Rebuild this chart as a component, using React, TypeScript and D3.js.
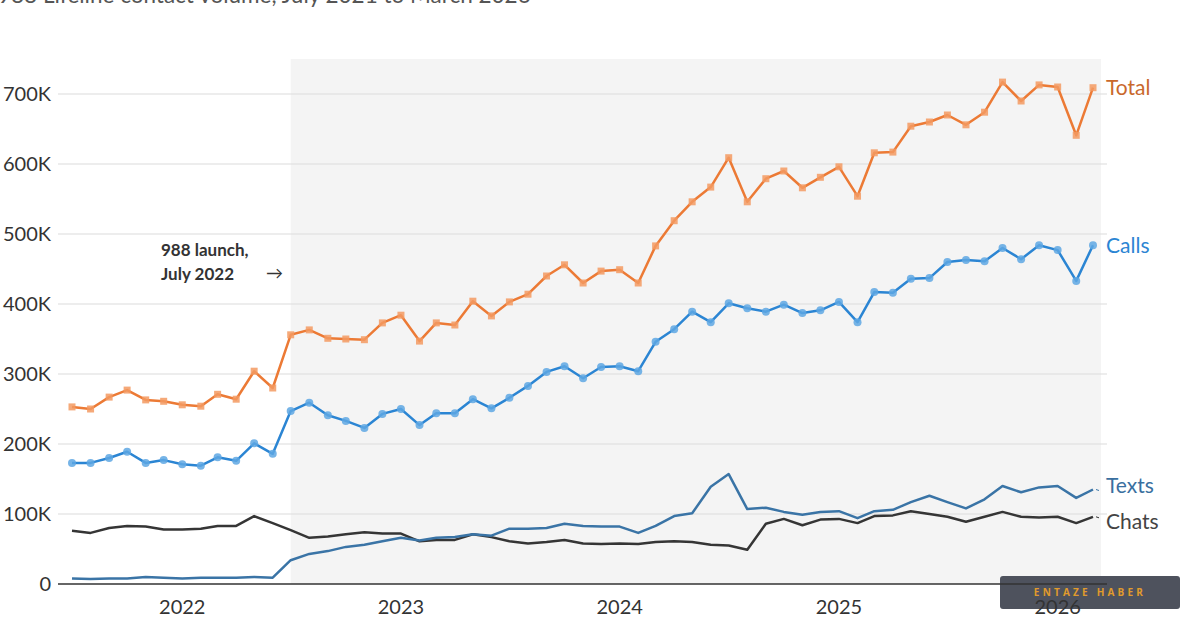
import * as d3 from "d3";

// monthly contact volume, Jul 2021 .. Mar 2026
const months = d3.timeMonth.range(new Date(2021, 6, 1), new Date(2026, 3, 1));

const total = [
  253, 250, 267, 277, 263, 261, 256, 254, 271, 264, 304, 280,
  356, 363, 351, 350, 349, 373, 384, 347, 373, 370, 404, 383,
  403, 414, 440, 456, 430, 447, 449, 430, 483, 519, 546, 567,
  609, 546, 579, 590, 566, 581, 596, 554, 616, 617, 654, 660,
  670, 656, 674, 717, 690, 713, 710, 641, 709,
];
const calls = [
  173, 173, 180, 189, 173, 177, 171, 169, 181, 176, 201, 186,
  247, 259, 241, 233, 223, 243, 250, 227, 244, 244, 264, 251,
  266, 283, 303, 311, 294, 310, 311, 304, 346, 364, 389, 374,
  401, 394, 389, 399, 387, 391, 403, 374, 417, 416, 436, 437,
  460, 463, 461, 480, 464, 484, 477, 433, 484,
];
const texts = [
  8, 7, 8, 8, 10, 9, 8, 9, 9, 9, 10, 9,
  34, 43, 47, 53, 56, 61, 66, 62, 66, 67, 71, 69,
  79, 79, 80, 86, 83, 82, 82, 73, 83, 97, 101, 139,
  157, 107, 109, 103, 99, 103, 104, 94, 104, 106, 117, 126,
  117, 108, 121, 140, 131, 138, 140, 123, 135,
];
const chats = [
  76, 73, 80, 83, 82, 78, 78, 79, 83, 83, 97, 87,
  77, 66, 68, 71, 74, 72, 72, 61, 63, 63, 71, 67,
  61, 58, 60, 63, 58, 57, 58, 57, 60, 61, 60, 56,
  55, 49, 86, 93, 84, 92, 93, 87, 97, 98, 104, 100,
  96, 89, 96, 103, 96, 95, 96, 87, 96,
];

const yTicks = [0, 100, 200, 300, 400, 500, 600, 700];
const yearTicks = [2022, 2023, 2024, 2025, 2026];
const launch = new Date(2022, 6, 1);

const W = 1200;
const H = 630;
const left = 58;
const right = 1107;
const top = 59;
const bottom = 584;

const FONT = "Lato, 'Open Sans', sans-serif";

export default function App() {
  const x = d3
    .scaleTime()
    .domain([months[0], months[months.length - 1]])
    .range([72, 1093]);
  const y = d3.scaleLinear().domain([0, 750]).range([bottom, top]);

  const line = d3
    .line<number>()
    .x((_, i) => x(months[i]))
    .y((d) => y(d));

  // labelDy nudges the two bottom labels apart
  const series = [
    { name: "Total", values: total, line: "#ec7a35", mark: "#f39a62", label: "#c9682c", marker: "square", labelDy: 0 },
    { name: "Calls", values: calls, line: "#2b85d3", mark: "#5ea7e3", label: "#2b85d3", marker: "circle", labelDy: 0 },
    { name: "Texts", values: texts, line: "#3a74a6", mark: "", label: "#3a6f9f", marker: "", labelDy: -4 },
    { name: "Chats", values: chats, line: "#353535", mark: "", label: "#444", marker: "", labelDy: 5 },
  ];

  const lastX = x(months[months.length - 1]);

  return (
    <div style={{ position: "absolute", left: 0, top: 0 }}>
      <svg width={W} height={H} style={{ display: "block", background: "#fff" }}>
        {/* chart title, mostly scrolled off the top */}
        <text x={-2} y={3} fontFamily={FONT} fontSize={22.5} fill="#555">
          988 Lifeline contact volume, July 2021 to March 2026
        </text>

        {/* post-launch shading */}
        <rect x={x(launch)} y={top} width={1101 - x(launch)} height={bottom - top} fill="#f4f4f4" />

        {/* grid */}
        {yTicks.slice(1).map((t) => (
          <line key={t} x1={left} x2={right} y1={y(t)} y2={y(t)} stroke="#dcdcdc" strokeWidth={1.2} />
        ))}
        {yTicks.map((t) => (
          <text
            key={"l" + t}
            x={51}
            y={y(t)}
            dy="0.35em"
            textAnchor="end"
            fontFamily={FONT}
            fontSize={20}
            fill="#333"
          >
            {t === 0 ? "0" : `${t}K`}
          </text>
        ))}

        {/* watermark badge */}
        <rect x={1000} y={576} width={180} height={33} rx={3} fill="#4e525d" />
        <text
          x={1090}
          y={596}
          textAnchor="middle"
          fontFamily="'Open Sans', sans-serif"
          fontSize={10}
          fontWeight="bold"
          letterSpacing={3.2}
          fill="#e09b2c"
        >
          ENTAZE HABER
        </text>

        <line x1={left} x2={right} y1={bottom} y2={bottom} stroke="#333" strokeWidth={1.5} />
        {yearTicks.map((yr) => (
          <text
            key={yr}
            x={x(new Date(yr, 0, 1))}
            y={614}
            textAnchor="middle"
            fontFamily={FONT}
            fontSize={20}
            fill="#333"
          >
            {yr}
          </text>
        ))}

        {/* series */}
        {series
          .slice()
          .reverse()
          .map((s) => (
            <g key={s.name}>
              <path d={line(s.values) || ""} fill="none" stroke={s.line} strokeWidth={2.5} strokeLinejoin="round" />
              {s.marker === "square" &&
                s.values.map((v, i) => (
                  <rect
                    key={i}
                    x={x(months[i]) - 3.5}
                    y={y(v) - 3.5}
                    width={7}
                    height={7}
                    fill={s.mark}
                    opacity={0.85}
                  />
                ))}
              {s.marker === "circle" &&
                s.values.map((v, i) => (
                  <circle key={i} cx={x(months[i])} cy={y(v)} r={4} fill={s.mark} opacity={0.85} />
                ))}
            </g>
          ))}

        {/* end labels */}
        {series.map((s) => {
          const v = s.values[s.values.length - 1];
          return (
            <g key={"lab" + s.name}>
              {!s.marker && (
                <line x1={lastX + 3} x2={lastX + 6} y1={y(v)} y2={y(v) + 1} stroke={s.line} strokeWidth={1} />
              )}
              <text
                x={1106}
                y={y(v) + s.labelDy}
                dy="0.35em"
                fontFamily={FONT}
                fontSize={21}
                fill={s.label}
              >
                {s.name}
              </text>
            </g>
          );
        })}

        {/* launch annotation */}
        <text fontFamily={FONT} fontSize={17} fontWeight="bold" fill="#333">
          <tspan x={161} y={256}>988 launch,</tspan>
          <tspan x={161} y={280}>July 2022</tspan>
        </text>
        <text x={266} y={279} fontFamily={FONT} fontSize={17} fill="#333">
          →
        </text>
      </svg>
    </div>
  );
}
